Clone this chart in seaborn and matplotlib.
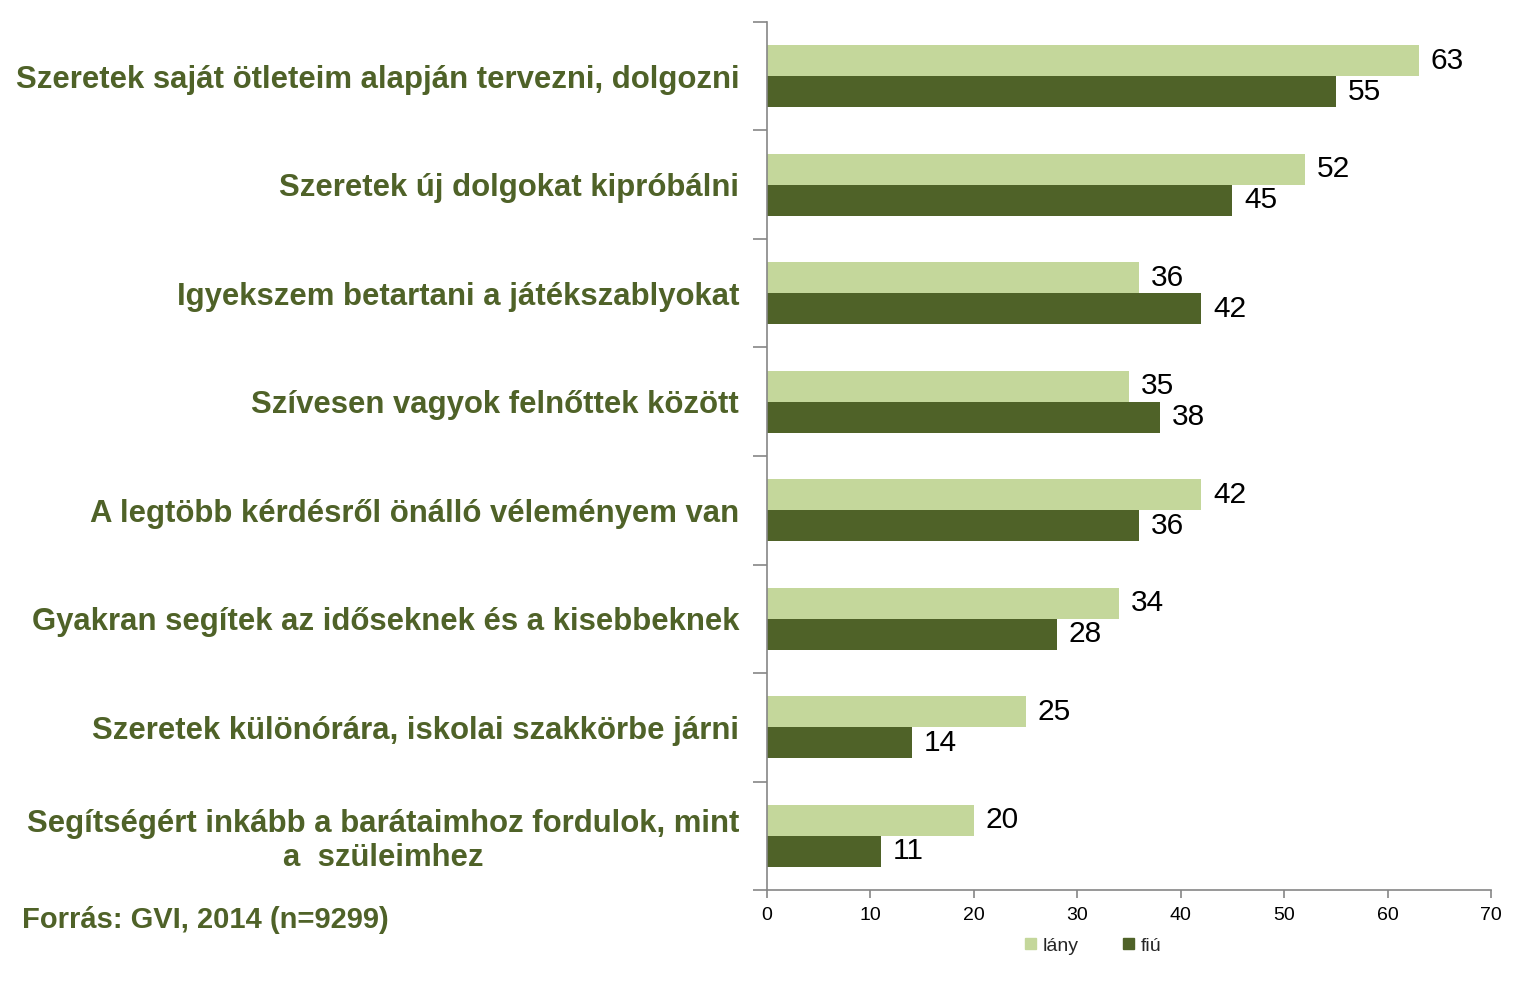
import numpy as np
import pandas as pd
import matplotlib
matplotlib.use("Agg")
import matplotlib.pyplot as plt
import seaborn as sns

categories = [
    "Szeretek saját ötleteim alapján tervezni, dolgozni",
    "Szeretek új dolgokat kipróbálni",
    "Igyekszem betartani a játékszablyokat",
    "Szívesen vagyok felnőttek között",
    "A legtöbb kérdésről önálló véleményem van",
    "Gyakran segítek az időseknek és a kisebbeknek",
    "Szeretek különórára, iskolai szakkörbe járni",
    "Segítségért inkább a barátaimhoz fordulok, mint\na  szüleimhez",
]
lany = [63, 52, 36, 35, 42, 34, 25, 20]
fiu = [55, 45, 42, 38, 36, 28, 14, 11]
series_names = ["lány", "fiú"]
x_ticks = [0, 10, 20, 30, 40, 50, 60, 70]
source_text = "Forrás: GVI, 2014 (n=9299)"

LIGHT = "#C4D79B"
DARK = "#4F6228"
GRAY = "#868686"

df = pd.DataFrame({
    "cat": categories * 2,
    "val": lany + fiu,
    "sex": [series_names[0]] * len(categories) + [series_names[1]] * len(categories),
})

sns.set_theme(style="white")
plt.rcParams["font.family"] = ["Liberation Sans", "DejaVu Sans"]

fig = plt.figure(figsize=(15.26, 9.88), dpi=100)
ax = fig.add_axes([767 / 1526, 1 - 890 / 988, (1491 - 767) / 1526, (890 - 22) / 988])

sns.barplot(data=df, x="val", y="cat", hue="sex", order=categories,
            hue_order=series_names, palette=[LIGHT, DARK], orient="h",
            width=0.575, ax=ax, saturation=1, edgecolor="none", linewidth=0)

for cont in ax.containers:
    ax.bar_label(cont, labels=[f"{v:.0f}" for v in cont.datavalues],
                 padding=8.5, fontsize=21.5, color="black")

ax.set_xlim(0, 70)
ax.set_ylim(len(categories) - 0.5, -0.5)
ax.set_xticks(x_ticks)
ax.set_xticklabels([str(t) for t in x_ticks], fontsize=14, color="black")
ax.set_yticks(range(len(categories)))
ax.set_yticklabels(categories, fontsize=22.4, fontweight="bold", color=DARK,
                   multialignment="center", linespacing=1.17)
ax.set_yticks(np.arange(-0.5, len(categories), 1), minor=True)
ax.tick_params(axis="y", which="major", length=0, pad=20)
ax.tick_params(axis="y", which="minor", length=10, width=1.2, color=GRAY, direction="out", left=True)
ax.tick_params(axis="x", which="major", length=6, width=1.2, color=GRAY, direction="out", bottom=True, pad=6)
ax.set_xlabel("")
ax.set_ylabel("")
for s in ["top", "right"]:
    ax.spines[s].set_visible(False)
for s in ["left", "bottom"]:
    ax.spines[s].set_color(GRAY)
    ax.spines[s].set_linewidth(1.2)
ax.grid(False)

leg = ax.get_legend()
if leg is not None:
    leg.remove()
handles = [plt.Rectangle((0, 0), 1, 1, color=c) for c in [LIGHT, DARK]]
fig.legend(handles, series_names, loc="center", bbox_to_anchor=(1093 / 1526, 1 - 946 / 988),
           ncol=2, frameon=False, fontsize=14, handlelength=0.55, handleheight=0.55,
           handletextpad=0.35, columnspacing=2.3)

fig.text(22 / 1526, 1 - 920 / 988, source_text, fontsize=21, fontweight="bold",
         color=DARK, ha="left", va="center")

fig.savefig("out.png", dpi=100)
